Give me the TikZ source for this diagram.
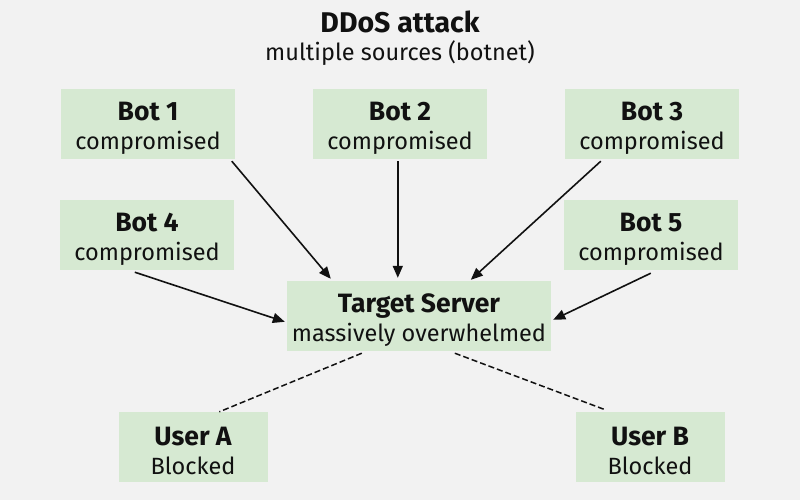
\documentclass[tikz,border=0pt]{standalone}
\usepackage{fontspec}
\setmainfont{Fira Sans}
\usetikzlibrary{arrows.meta,calc}
\definecolor{bg}{HTML}{F2F2F2}
\definecolor{boxg}{HTML}{D6E9D2}
\definecolor{ink}{HTML}{111111}
\newcommand{\hd}[1]{{\rule{0pt}{27pt}\fontsize{26.5}{29}\selectfont\bfseries #1}}
\begin{document}
\begin{tikzpicture}[x=1pt,y=-1pt,
  box/.style={fill=boxg,draw=none,inner sep=0pt,align=center,text=ink,font=\fontsize{23.5}{29}\selectfont},
  arr/.style={draw=ink,line width=1.6pt,-{Triangle[length=12pt,width=10pt]}},
  dsh/.style={draw=ink,line width=1.5pt,dash pattern=on 6pt off 3pt}]
\useasboundingbox[fill=bg] (0,0) rectangle (800,500);
\node[text=ink,font=\fontsize{28.5}{30}\selectfont\bfseries] (title) at (400,22) {DDoS attack};
\node[text=ink,font=\fontsize{23.5}{30}\selectfont] (sub) at (400,53) {multiple sources (botnet)};
\node[box,minimum width=174pt,minimum height=70pt] (b1) at (148,124) {\hd{Bot 1}\\compromised};
\node[box,minimum width=174pt,minimum height=70pt] (b2) at (400,124) {\hd{Bot 2}\\compromised};
\node[box,minimum width=174pt,minimum height=70pt] (b3) at (652,124) {\hd{Bot 3}\\compromised};
\node[box,minimum width=174pt,minimum height=70pt] (b4) at (147,235) {\hd{Bot 4}\\compromised};
\node[box,minimum width=174pt,minimum height=70pt] (b5) at (651,235) {\hd{Bot 5}\\compromised};
\node[box,minimum width=264pt,minimum height=70pt] (t) at (419,316) {\hd{Target Server}\\massively overwhelmed};
\node[box,minimum width=149pt,minimum height=70pt] (ua) at (193,447) {\hd{User A}\\Blocked};
\node[box,minimum width=149pt,minimum height=70pt] (ub) at (650,447) {\hd{User B}\\Blocked};
% arrows
\draw[arr] ($(b1.south west)+(171,2)$) -- ($(t.north west)+(44,-2)$);
\draw[arr] ($(b2.south west)+(85,2)$) -- ($(t.north west)+(111,-3)$);
\draw[arr] ($(b3.south west)+(36,2)$) -- ($(t.north west)+(184,-1)$);
\draw[arr] ($(b4.south west)+(75,2)$) -- ($(t.north west)+(-2,41)$);
\draw[arr] ($(b5.south west)+(87,3)$) -- ($(t.north east)+(2,39)$);
\draw[dsh] ($(t.south west)+(75,2)$) -- ($(ua.north west)+(101,0)$);
\draw[dsh] ($(t.south west)+(168,2)$) -- ($(ub.north west)+(30,-2)$);
\end{tikzpicture}
\end{document}
